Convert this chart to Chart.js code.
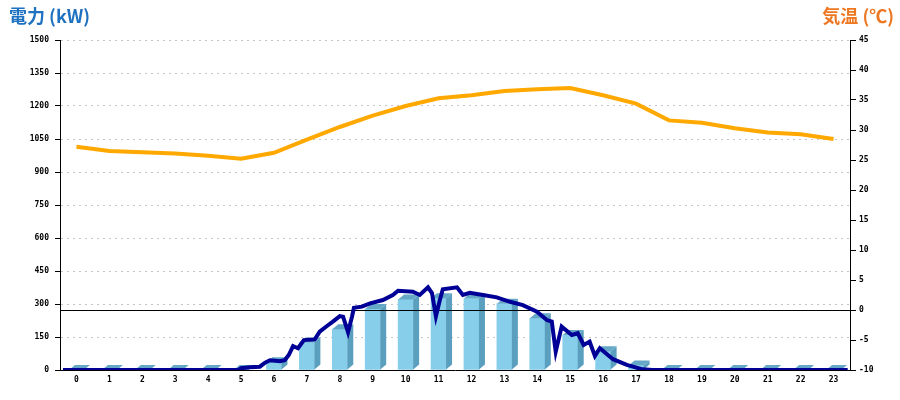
<!DOCTYPE html>
<html lang="ja">
<head>
  <meta charset="UTF-8">
  <title>電力と気温</title>
  <script src="https://cdn.jsdelivr.net/npm/chart.js"></script>
  <style>
    body {
      margin: 0;
      background: #fff;
    }
    .wrap {
      position: relative;
      width: 900px;
      height: 400px;
    }
    .ttl {
      position: absolute;
      top: 3px;
      font-family: "Noto Sans CJK JP", sans-serif;
      font-weight: bold;
      font-size: 18px;
      line-height: 24px;
    }
    #ttlLeft { left: 9px; color: #1f72c0; }
    #ttlRight { right: 6px; color: #ee7722; }
  </style>
</head>
<body>
  <div class="wrap">
    <canvas id="chart" width="900" height="400"></canvas>
    <div class="ttl" id="ttlLeft">電力 (kW)</div>
    <div class="ttl" id="ttlRight">気温 (℃)</div>
  </div>

  <script>
    // hourly categories
    const hours = ['0','1','2','3','4','5','6','7','8','9','10','11','12','13','14','15','16','17','18','19','20','21','22','23'];

    // hourly generated energy (bars, kW)
    const hourlyKw = [0, 0, 0, 0, 0, 0, 35, 125, 185, 277, 321, 326, 325, 301, 235, 159, 85, 20, 0, 0, 0, 0, 0, 0];

    // hourly temperature (right axis, deg C)
    const tempC = [27.2, 26.5, 26.3, 26.1, 25.7, 25.2, 26.2, 28.4, 30.5, 32.4, 34.0, 35.3, 35.8, 36.5, 36.8, 37.0, 35.8, 34.4, 31.6, 31.2, 30.3, 29.6, 29.3, 28.5];

    // instantaneous power line (x in hours, y in kW)
    const powerHours = [-0.41, 4.92, 5.0, 5.27, 5.57, 5.73, 5.88, 6.18, 6.33, 6.45, 6.58, 6.73, 6.91, 7.24, 7.39, 7.61, 7.79, 8.0, 8.1, 8.25, 8.37, 8.43, 8.67, 8.92, 9.31, 9.61, 9.77, 10.22, 10.43, 10.68, 10.8, 10.92, 11.04, 11.13, 11.56, 11.74, 11.95, 12.35, 12.77, 13.17, 13.56, 13.99, 14.29, 14.44, 14.56, 14.74, 15.05, 15.23, 15.41, 15.59, 15.75, 15.9, 16.3, 16.72, 17.2, 17.5, 23.43];
    const powerKw = [0, 0, 8, 12, 15, 33, 44, 40, 45, 68, 109, 99, 136, 139, 174, 200, 220, 245, 242, 172, 242, 283, 288, 303, 318, 341, 360, 356, 341, 376, 350, 244, 318, 367, 376, 341, 351, 341, 330, 310, 295, 265, 227, 220, 83, 197, 159, 167, 114, 129, 64, 99, 49, 23, 3, 0, 0];

    const kwTicks = { min: 0, max: 1500, step: 150 };
    const tempTicks = { min: -10, max: 45, step: 5 };

    const tickFont = { family: 'DejaVu Sans Mono', size: 8, weight: 'bold' };

    // side and top faces of the bars, plus the 0 deg line over them
    const bar3d = {
      id: 'bar3d',
      afterDatasetDraw(chart, args) {
        if (args.index !== 0) return;
        const ctx = chart.ctx;
        const dx = 6, dy = 5;
        args.meta.data.forEach(bar => {
          const left = bar.x - bar.width / 2;
          const right = bar.x + bar.width / 2;
          const top = bar.y;
          const base = bar.base;
          ctx.save();
          ctx.fillStyle = '#5b9fbe';
          ctx.beginPath();
          ctx.moveTo(right, top);
          ctx.lineTo(right + dx, top - dy);
          ctx.lineTo(right + dx, base - dy);
          ctx.lineTo(right, base);
          ctx.closePath();
          ctx.fill();
          ctx.fillStyle = '#64a7c6';
          ctx.beginPath();
          ctx.moveTo(left, top);
          ctx.lineTo(left + dx, top - dy);
          ctx.lineTo(right + dx, top - dy);
          ctx.lineTo(right, top);
          ctx.closePath();
          ctx.fill();
          ctx.restore();
        });
        const y0 = chart.scales.y2.getPixelForValue(0);
        const area = chart.chartArea;
        ctx.save();
        ctx.strokeStyle = '#000';
        ctx.lineWidth = 1;
        ctx.beginPath();
        ctx.moveTo(area.left, Math.round(y0) + 0.5);
        ctx.lineTo(area.right, Math.round(y0) + 0.5);
        ctx.stroke();
        ctx.restore();
      }
    };

    new Chart(document.getElementById('chart'), {
      data: {
        labels: hours,
        datasets: [
          {
            type: 'bar',
            data: hourlyKw,
            backgroundColor: '#87ceeb',
            barThickness: 15,
            grouped: false,
            xAxisID: 'x',
            yAxisID: 'y',
            order: 3
          },
          {
            type: 'line',
            data: tempC,
            borderColor: '#ffa800',
            borderWidth: 4,
            pointRadius: 0,
            tension: 0,
            xAxisID: 'xt',
            yAxisID: 'y2',
            order: 2
          },
          {
            type: 'line',
            data: powerHours.map((h, i) => ({ x: h, y: powerKw[i] })),
            borderColor: '#000096',
            borderWidth: 4,
            pointRadius: 0,
            tension: 0,
            xAxisID: 'xl',
            yAxisID: 'y',
            order: 1
          }
        ]
      },
      options: {
        responsive: false,
        animation: false,
        layout: { padding: { top: 40, bottom: 0, left: 0, right: 0 } },
        plugins: {
          legend: { display: false },
          tooltip: { enabled: false }
        },
        scales: {
          x: {
            type: 'category',
            offset: true,
            afterFit: s => { s.height = 30; },
            grid: { display: false, drawTicks: false },
            border: { display: true, color: '#000', width: 1 },
            ticks: { font: tickFont, color: '#000', padding: 5, maxRotation: 0, autoSkip: false }
          },
          xt: {
            type: 'category',
            offset: true,
            display: false
          },
          xl: {
            type: 'linear',
            display: false,
            min: -0.5,
            max: 23.5
          },
          y: {
            position: 'left',
            min: kwTicks.min,
            max: kwTicks.max,
            afterFit: s => { s.width = 60; },
            afterBuildTicks: s => {
              s.ticks = [];
              for (let v = kwTicks.min; v <= kwTicks.max; v += kwTicks.step) s.ticks.push({ value: v });
            },
            grid: { color: '#c4c4c4', tickColor: '#000', tickLength: 5 },
            border: { color: '#000', width: 1, dash: [2, 4] },
            ticks: { font: tickFont, color: '#000', padding: 6, callback: v => String(v) }
          },
          y2: {
            position: 'right',
            min: tempTicks.min,
            max: tempTicks.max,
            afterFit: s => { s.width = 50; },
            afterBuildTicks: s => {
              s.ticks = [];
              for (let v = tempTicks.min; v <= tempTicks.max; v += tempTicks.step) s.ticks.push({ value: v });
            },
            grid: { drawOnChartArea: false, color: '#000', tickLength: 6 },
            border: { color: '#000', width: 1 },
            ticks: { font: tickFont, color: '#000', padding: 3, callback: v => String(v) }
          }
        }
      },
      plugins: [bar3d]
    });
  </script>
</body>
</html>
